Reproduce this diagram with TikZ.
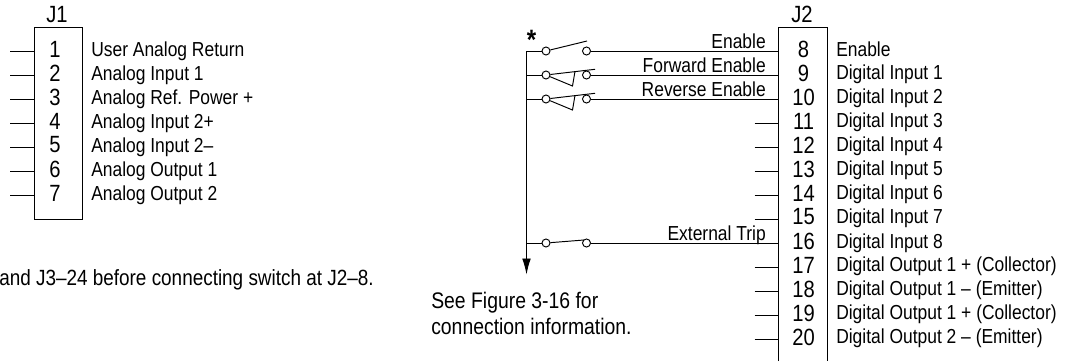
\documentclass[tikz,border=0pt]{standalone}
\usepackage{fontspec}
\setmainfont[FakeStretch=0.86]{Liberation Sans}
\usetikzlibrary{arrows.meta,calc}
\tikzset{
 wire/.style={line width=0.72pt,black},
 pin/.style={inner sep=0pt,font=\fontsize{17.6}{18}\selectfont,anchor=center},
 lab/.style={inner sep=0pt,font=\fontsize{15.2}{16}\selectfont,anchor=base west},
 rlab/.style={inner sep=0pt,font=\fontsize{15.2}{16}\selectfont,anchor=base east},
 note/.style={inner sep=0pt,font=\fontsize{16.9}{17}\selectfont,anchor=base west},
 term/.style={circle,draw,line width=0.72pt,fill=white,minimum size=6pt,inner sep=0pt},
 hdr/.style={inner sep=0pt,font=\fontsize{17.6}{18}\selectfont,anchor=base},
}
\begin{document}
\begin{tikzpicture}[x=0.75pt,y=-0.75pt]
\useasboundingbox (0,0) rectangle (1069,361);
% J1
\node[hdr] (j1t) at (57,22) {J1};
\node[draw,wire,minimum width=36pt,minimum height=144pt,inner sep=0pt] (j1) at (58,123) {};
\foreach \n/\t [count=\i from 0] in {1/User Analog Return,2/Analog Input 1,3/Analog Ref. Power +,4/Analog Input 2+,5/Analog Input 2–,6/Analog Output 1,7/Analog Output 2}{
  \pgfmathsetmacro\yy{51+24*\i}
  \node[pin] (a\n) at (55,\yy-2) {\n};
  \node[lab] (al\n) at (91,\yy+5.5) {\t};
  \coordinate (as\n) at (10,\yy);
  \draw[wire] (as\n) -- (as\n -| j1.west);
}
\node[note,font=\fontsize{16.5}{17}\selectfont] (n1) at (-1,285) {and J3–24 before connecting switch at J2–8.};
% J2
\node[hdr] (j2t) at (802,22) {J2};
\coordinate (j2tl) at (778.5,27);
\coordinate (j2tr) at (827,27);
\coordinate (j2bl) at (778.5,361);
\coordinate (j2br) at (827,361);
\draw[wire] (j2bl) -- (j2tl) -- (j2tr) -- (j2br);
\foreach \n/\t/\d [count=\i from 0] in {8/Enable/1,9/Digital Input 1/0,10/Digital Input 2/0,11/Digital Input 3/0,12/Digital Input 4/0,13/Digital Input 5/0,14/Digital Input 6/0,15/Digital Input 7/0,16/Digital Input 8/1,17/Digital Output 1 + (Collector)/0,18/Digital Output 1 – (Emitter)/0,19/Digital Output 1 + (Collector)/0,20/Digital Output 2 – (Emitter)/0}{
  \pgfmathsetmacro\yy{51+24*\i}
  \node[pin] (b\n) at (803.5,\yy-2) {\n};
  \node[lab] (bl\n) at (836,\yy+4.5+\d) {\t};
  \coordinate (bp\n) at (778.5,\yy);
}
\foreach \n in {11,12,13,14,15,17,18,19,20}{
  \coordinate (bs\n) at ($(bp\n)+(-24,0)$);
  \draw[wire] (bs\n) -- (bp\n);
}
% bus and switches
\coordinate (bus0) at (526.5,51);
\coordinate (busend) at (526.5,274.5);
\draw[wire,-{Latex[length=12pt,width=6.5pt]}] (bus0) -- (busend);
\foreach \n/\k/\l/\yy in {8/A/Enable/51,9/B/Forward Enable/75,10/C/Reverse Enable/99,16/D/External Trip/243}{
  \coordinate (w\k) at (526.5,\yy);
  \node[term] (s\k) at (546,\yy) {};
  \node[term] (e\k) at (586.5,\yy) {};
  \draw[wire] (w\k) -- (s\k);
  \draw[wire] (e\k) -- (bp\n);
  \node[rlab] (t\k) at (766,\yy-3) {\l};
}
\node[inner sep=0pt,font=\fontsize{21}{21}\selectfont\bfseries] (star) at (531.5,40) {*};
\coordinate (la) at (587,41);
\coordinate (ld) at (584,240);
\draw[wire] (sA) -- (la);
\draw[wire] (sD) -- (ld);
\foreach \k in {B,C}{
  \coordinate (l\k) at ($(s\k.center)+(49,-5.7)$);
  \coordinate (p\k) at ($(s\k.center)+(26.5,11)$);
  \coordinate (q\k) at ($(s\k.center)+(29,-3.7)$);
  \draw[wire] (s\k) -- (l\k);
  \draw[wire] (s\k) -- (p\k) -- (q\k);
}
\node[note] (n2) at (431,308) {See Figure 3-16 for};
\node[note] (n3) at (431,334) {connection information.};
\end{tikzpicture}
\end{document}
